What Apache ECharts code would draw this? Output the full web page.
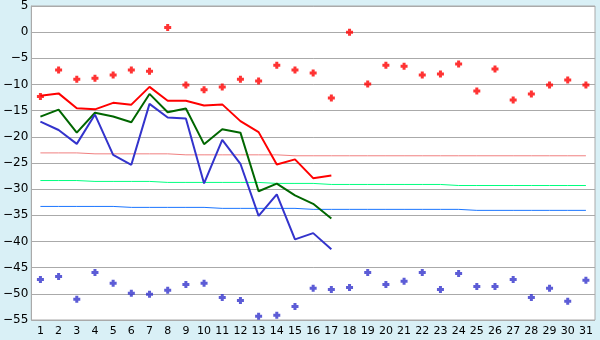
<!DOCTYPE html>
<html><head><meta charset="utf-8">
<script src="https://cdn.jsdelivr.net/npm/echarts@6/dist/echarts.min.js"></script>
<style>html,body{margin:0;padding:0;background:#d9f0f6}#c{width:600px;height:340px}</style>
</head><body><div id="c"></div>
<script>
var days = [];
for (var d = 1; d <= 31; d++) days.push(String(d));
var yTicks = [5, 0, -5, -10, -15, -20, -25, -30, -35, -40, -45, -50, -55];

var maxDots = [-12.3, -7.25, -9.0, -8.8, -8.2, -7.25, -7.45, 0.9, -10.1, -11.0, -10.5, -9.0, -9.35, -6.3, -7.25, -7.8, -12.6, 0.0, -9.9, -6.3, -6.5, -8.2, -8.0, -6.1, -11.25, -7.05, -12.95, -11.8, -10.1, -9.15, -10.1];
var minDots = [-47.25, -46.7, -51.05, -45.9, -48.0, -49.9, -50.1, -49.3, -48.2, -48.0, -50.7, -51.25, -54.3, -54.1, -52.4, -48.95, -49.15, -48.8, -45.9, -48.2, -47.6, -45.9, -49.15, -46.1, -48.6, -48.6, -47.25, -50.7, -48.95, -51.4, -47.4];
var redLine = [-12.15, -11.7, -14.55, -14.75, -13.5, -13.85, -10.45, -13.1, -13.1, -14.0, -13.8, -17.0, -19.1, -25.3, -24.3, -27.9, -27.4];
var greenLine = [-16.15, -14.8, -19.2, -15.4, -16.1, -17.2, -11.8, -15.3, -14.6, -21.4, -18.55, -19.2, -30.4, -28.95, -31.2, -32.8, -35.6];
var blueLine = [-17.1, -18.7, -21.35, -15.75, -23.45, -25.35, -13.7, -16.3, -16.5, -28.9, -20.6, -25.15, -35.1, -31.0, -39.6, -38.4, -41.5];
var pinkRef = [-23.07, -23.07, -23.07, -23.25, -23.25, -23.25, -23.25, -23.25, -23.44, -23.44, -23.44, -23.44, -23.44, -23.44, -23.62, -23.62, -23.62, -23.62, -23.62, -23.62, -23.62, -23.62, -23.62, -23.62, -23.62, -23.62, -23.62, -23.62, -23.62, -23.62, -23.62];
var greenRef = [-28.35, -28.35, -28.35, -28.52, -28.52, -28.52, -28.52, -28.71, -28.71, -28.71, -28.71, -28.71, -28.71, -28.9, -28.9, -28.9, -29.1, -29.1, -29.1, -29.1, -29.1, -29.1, -29.1, -29.3, -29.3, -29.3, -29.3, -29.3, -29.3, -29.3, -29.3];
var blueRef = [-33.3, -33.3, -33.3, -33.3, -33.3, -33.48, -33.48, -33.48, -33.48, -33.48, -33.67, -33.67, -33.67, -33.67, -33.67, -33.86, -33.86, -33.86, -33.86, -33.86, -33.86, -33.86, -33.86, -33.86, -34.05, -34.05, -34.05, -34.05, -34.05, -34.05, -34.05];

var plus = 'path://M2,0H5V2H7V5H5V7H2V5H0V2H2Z';
var font = 'DejaVu Sans';

function lineSeries(data, color, width, z) {
  return {type: 'line', data: data, symbol: 'none', silent: true, z: z,
    lineStyle: {color: color, width: width}, animation: false};
}

var chart = echarts.init(document.getElementById('c'));
chart.setOption({
  backgroundColor: '#d9f0f6',
  animation: false,
  grid: {left: 26, right: 5, top: 5, bottom: 20, show: true, backgroundColor: '#ffffff', borderColor: '#aaaaaa', borderWidth: 1},
  xAxis: {
    type: 'category', data: days, boundaryGap: true,
    axisLine: {lineStyle: {color: '#aaaaaa', width: 1}},
    axisTick: {alignWithLabel: true, length: 5, lineStyle: {color: '#333333'}},
    axisLabel: {color: '#000', fontFamily: font, fontSize: 11, margin: 6, interval: 0},
    splitLine: {show: false}
  },
  yAxis: {
    type: 'value', min: yTicks[yTicks.length - 1], max: yTicks[0], interval: 5,
    axisLine: {show: true, lineStyle: {color: '#aaaaaa'}},
    axisTick: {show: false},
    axisLabel: {color: '#000', fontFamily: font, fontSize: 12, margin: 3,
      formatter: function (v) { return String(v).replace('-', '\u2212'); }},
    splitLine: {show: true, lineStyle: {color: '#aaaaaa', width: 1}}
  },
  series: [
    lineSeries(pinkRef, '#f08080', 1, 2),
    lineSeries(greenRef, '#00ff7f', 1, 2),
    lineSeries(blueRef, '#1a75ff', 1, 2),
    lineSeries(redLine, '#ff0000', 2, 3),
    lineSeries(greenLine, '#006600', 2, 3),
    lineSeries(blueLine, '#3333cc', 2, 3),
    {type: 'scatter', data: maxDots, symbol: plus, symbolSize: 7, itemStyle: {color: '#ff0000'}, z: 4},
    {type: 'scatter', data: minDots, symbol: plus, symbolSize: 7, itemStyle: {color: '#3333cc'}, z: 4}
  ]
});
</script></body></html>
